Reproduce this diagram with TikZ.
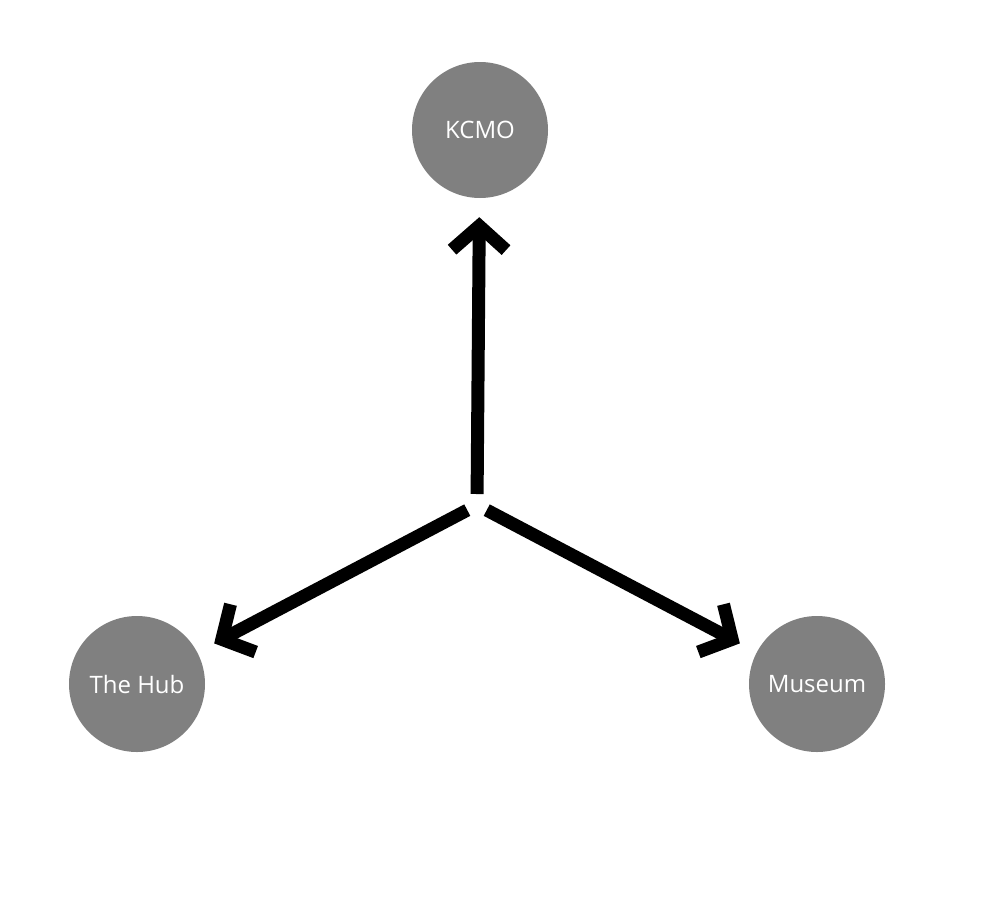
\documentclass[tikz,border=0pt]{standalone}
\usepackage{fontspec}
\setmainfont{Open Sans}
\usetikzlibrary{arrows.meta}
\begin{document}
\begin{tikzpicture}[x=1pt,y=-1pt,
  hub/.style={circle,fill={rgb,255:red,128;green,128;blue,128},draw=none,minimum size=136pt,inner sep=0pt,text=white,font=\fontsize{24}{28}\selectfont},
  link/.style={line width=13pt,-{Straight Barb[length=24pt,width=54pt,line width=13pt]},shorten <=11pt,shorten >=19pt}]
\useasboundingbox (0,0) rectangle (1008,897);
\node[hub] (kcmo) at (480,130) {KCMO};
\node[hub] (hub) at (137,684) {The Hub};
\node[hub] (mus) at (817,684) {Museum};
\coordinate (c) at (477,505);
\draw[link] (c) -- (kcmo);
\draw[link] (c) -- (hub);
\draw[link] (c) -- (mus);
\end{tikzpicture}
\end{document}
